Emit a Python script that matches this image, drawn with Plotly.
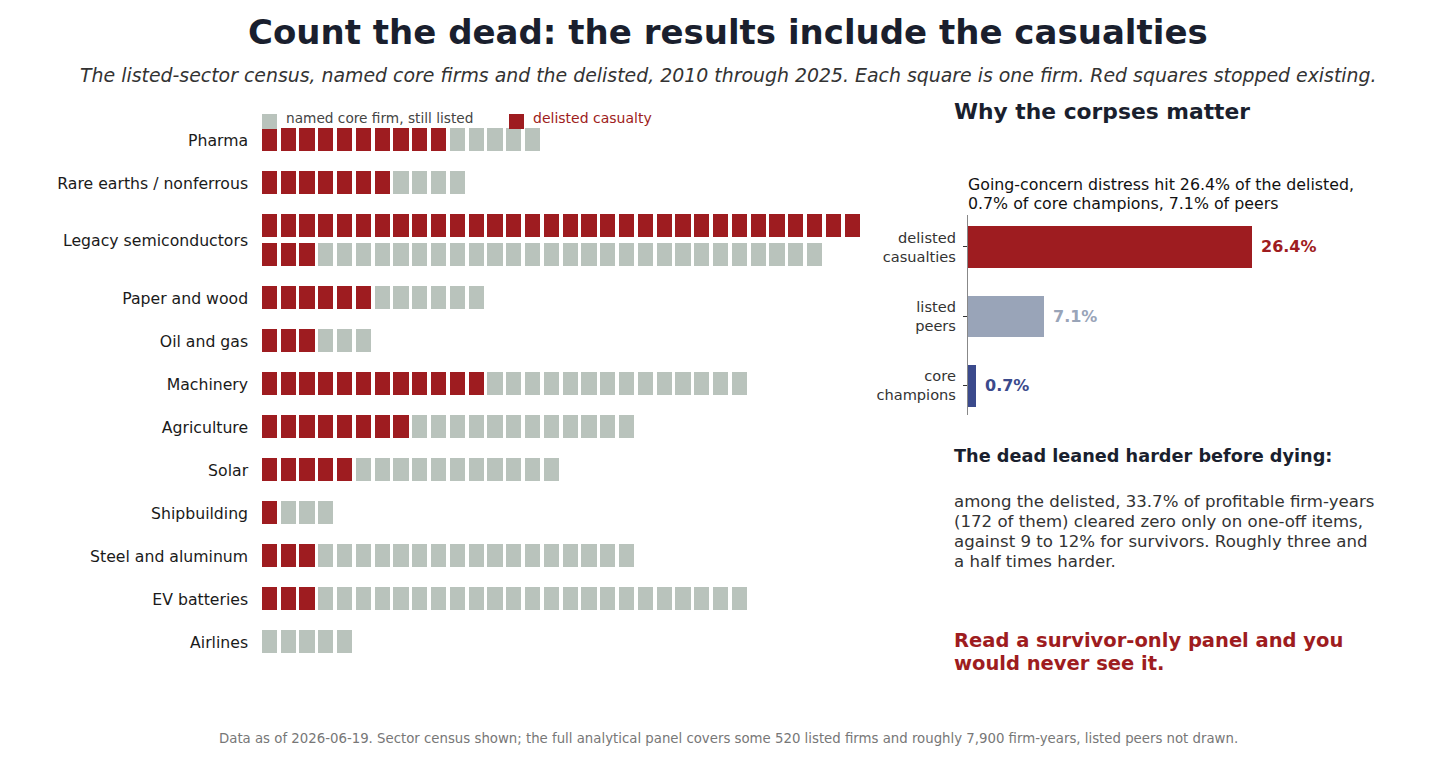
import plotly.graph_objects as go

# ---------------- data ----------------
sectors = ["Pharma", "Rare earths / nonferrous", "Legacy semiconductors", "Paper and wood",
           "Oil and gas", "Machinery", "Agriculture", "Solar", "Shipbuilding",
           "Steel and aluminum", "EV batteries", "Airlines"]
delisted = [10, 7, 35, 6, 3, 12, 8, 5, 1, 3, 3, 0]
still_listed = [5, 4, 27, 6, 3, 14, 12, 11, 3, 17, 23, 5]

distress_groups = ["delisted<br>casualties", "listed<br>peers", "core<br>champions"]
distress_pct = [26.4, 7.1, 0.7]

RED = "#9e1c20"
GREY = "#b9c3bc"
PEER = "#99a4b8"
CORE = "#3b4a8c"
distress_colors = [RED, PEER, CORE]

W, H = 1456, 764
PER_ROW = 32
ROW_GAP = 29 / 43.0   # wrap-row spacing relative to sector spacing
SQ_H = 23 / 43.0
SQ_W = 0.8

# ---------------- waffle layout ----------------
red_x, red_base, grey_x, grey_base = [], [], [], []
tickvals = []
offset = 0.0
for k, name in enumerate(sectors):
    n = delisted[k] + still_listed[k]
    nrows = max(1, (n + PER_ROW - 1) // PER_ROW)
    y0 = k + offset
    for i in range(n):
        r, c = divmod(i, PER_ROW)
        yc = y0 + r * ROW_GAP
        if i < delisted[k]:
            red_x.append(c); red_base.append(yc - SQ_H / 2)
        else:
            grey_x.append(c); grey_base.append(yc - SQ_H / 2)
    tickvals.append(y0 + (nrows - 1) * ROW_GAP / 2)
    offset += (nrows - 1) * ROW_GAP

fig = go.Figure()
fig.add_trace(go.Bar(x=red_x, y=[SQ_H] * len(red_x), base=red_base, width=SQ_W,
                     marker=dict(color=RED, line=dict(width=0)), name="delisted casualty",
                     xaxis="x", yaxis="y", hoverinfo="skip", showlegend=False))
fig.add_trace(go.Bar(x=grey_x, y=[SQ_H] * len(grey_x), base=grey_base, width=SQ_W,
                     marker=dict(color=GREY, line=dict(width=0)), name="named core firm, still listed",
                     xaxis="x", yaxis="y", hoverinfo="skip", showlegend=False))

# right panel bars
fig.add_trace(go.Bar(x=distress_pct, y=distress_groups, orientation="h", width=0.6,
                     marker=dict(color=distress_colors, line=dict(width=0)),
                     xaxis="x2", yaxis="y2", hoverinfo="skip", showlegend=False))
for g, v, c in zip(distress_groups, distress_pct, distress_colors):
    fig.add_annotation(x=v, y=g, xref="x2", yref="y2", text=f"<b>{v}%</b>", showarrow=False,
                       xanchor="left", yanchor="middle", xshift=7,
                       font=dict(size=16, color=c, family="DejaVu Sans"))

# pixel helpers
def px(x):
    return x / W

def py(y):
    return 1 - y / H

pitch = 18.8
x_range = [-0.5, 32.5]
x_dom = [px(269.5 - 0.5 * pitch), px(269.5 + 32.5 * pitch)]
y_range = [12.3, -0.6]
y_dom = [py(140 + 12.3 * 43), py(140 - 0.6 * 43)]

fig.update_layout(
    width=W, height=H, margin=dict(l=0, r=0, t=0, b=0),
    paper_bgcolor="white", plot_bgcolor="white",
    barmode="overlay", bargap=0,
    font=dict(family="DejaVu Sans", color="#1a1a1a"),
    xaxis=dict(domain=x_dom, range=x_range, visible=False, fixedrange=True),
    yaxis=dict(domain=y_dom, range=y_range, tickvals=tickvals, ticktext=sectors,
               showgrid=False, zeroline=False, showline=False, ticks="",
               ticklabelstandoff=11, tickfont=dict(size=15.7, color="#1a1a1a")),
    xaxis2=dict(domain=[px(968), px(1380)], range=[0, (1380 - 968) / 10.76], visible=False,
                anchor="y2"),
    yaxis2=dict(domain=[py(415), py(215)], range=[2.42, -0.46], anchor="x2",
                showgrid=False, zeroline=False, showline=True, linecolor="#888888", linewidth=1.2,
                ticks="outside", ticklen=4, tickcolor="#333333", ticklabelstandoff=4,
                tickfont=dict(size=14.6, color="#333333")),
)


def text_lines(lines, x, ys, size, color):
    for line, yy in zip(lines, ys):
        fig.add_annotation(text=line, x=px(x), y=py(yy), xref="paper", yref="paper",
                           showarrow=False, xanchor="left", yanchor="middle", align="left",
                           font=dict(size=size, color=color))


# title & subtitle
fig.add_annotation(text="<b>Count the dead: the results include the casualties</b>",
                   x=0.5, y=py(32), xref="paper", yref="paper", showarrow=False,
                   xanchor="center", yanchor="middle",
                   font=dict(size=34, color="#1a1f2e", family="DejaVu Sans"))
fig.add_annotation(text="<i>The listed-sector census, named core firms and the delisted, 2010 through 2025. "
                        "Each square is one firm. Red squares stopped existing.</i>",
                   x=0.5, y=py(75), xref="paper", yref="paper", showarrow=False,
                   xanchor="center", yanchor="middle",
                   font=dict(size=18.9, color="#333333", family="DejaVu Sans"))

# legend keys
fig.add_shape(type="rect", xref="paper", yref="paper", x0=px(262), x1=px(277), y0=py(129), y1=py(114),
              fillcolor=GREY, line=dict(width=0))
fig.add_annotation(text="named core firm, still listed", x=px(284), y=py(118), xref="paper", yref="paper",
                   showarrow=False, xanchor="left", yanchor="middle",
                   font=dict(size=13.7, color="#444444"))
fig.add_shape(type="rect", xref="paper", yref="paper", x0=px(509), x1=px(524), y0=py(129), y1=py(114),
              fillcolor=RED, line=dict(width=0))
fig.add_annotation(text="delisted casualty", x=px(531), y=py(118), xref="paper", yref="paper",
                   showarrow=False, xanchor="left", yanchor="middle",
                   font=dict(size=14, color=RED))

# right panel texts
text_lines(["<b>Why the corpses matter</b>"], 952, [111], 21.8, "#1a1f2e")
text_lines(["Going-concern distress hit 26.4% of the delisted,",
            "0.7% of core champions, 7.1% of peers"], 966, [184, 203], 15.8, "#111111")
text_lines(["<b>The dead leaned harder before dying:</b>"], 952, [456], 17.7, "#1a1f2e")
text_lines(["among the delisted, 33.7% of profitable firm-years",
            "(172 of them) cleared zero only on one-off items,",
            "against 9 to 12% for survivors. Roughly three and",
            "a half times harder."], 952, [501, 521, 541, 561], 16.6, "#333333")
text_lines(["<b>Read a survivor-only panel and you</b>",
            "<b>would never see it.</b>"], 952, [640, 663], 19.5, RED)

# footer
fig.add_annotation(text="Data as of 2026-06-19. Sector census shown; the full analytical panel covers some 520 listed "
                        "firms and roughly 7,900 firm-years, listed peers not drawn.",
                   x=0.5, y=py(738), xref="paper", yref="paper", showarrow=False,
                   xanchor="center", yanchor="middle",
                   font=dict(size=13.3, color="#777777"))

fig.write_html("out.html")
